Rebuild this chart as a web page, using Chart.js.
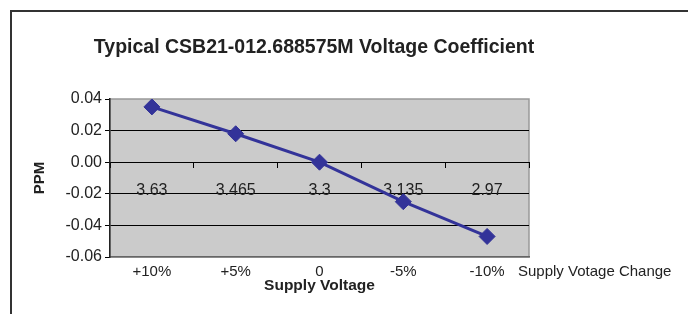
<!DOCTYPE html>
<html>
<head>
<meta charset="utf-8">
<script src="https://cdn.jsdelivr.net/npm/chart.js@4.4.1/dist/chart.umd.min.js"></script>
<style>
  html, body { margin: 0; padding: 0; background: #fff; }
  #wrap { position: relative; width: 688px; height: 314px; overflow: hidden; }
  #frame { position: absolute; left: 10px; top: 10px; width: 700px; height: 320px;
           border-left: 2px solid #333; border-top: 2px solid #333; }
  #chart { position: absolute; left: 0; top: 0; }
</style>
</head>
<body>
<div id="wrap">
  <div id="frame"></div>
  <canvas id="chart" width="688" height="314"></canvas>
</div>
<script>
// data
var changeLabels = ["+10%", "+5%", "0", "-5%", "-10%"];
var voltageLabels = ["3.63", "3.465", "3.3", "3.135", "2.97"];
var ppmValues = [0.035, 0.018, 0.0, -0.025, -0.047];
var ppmTicks = [-0.06, -0.04, -0.02, 0.00, 0.02, 0.04];
var changeNote = "Supply Votage Change";

Chart.defaults.font.family = '"Liberation Sans", Arial, sans-serif';
Chart.defaults.color = "#222";

// grey plot area with a thin border
var plotBg = {
    id: "plotBg",
    beforeDraw: function (chart) {
        var a = chart.chartArea, ctx = chart.ctx;
        ctx.save();
        ctx.fillStyle = "#cbcbcb";
        ctx.fillRect(a.left, a.top, a.right - a.left, a.bottom - a.top);
        ctx.strokeStyle = "#999";
        ctx.lineWidth = 1.5;
        ctx.strokeRect(a.left, a.top, a.right - a.left, a.bottom - a.top);
        ctx.restore();
    }
};

// the text box next to the bottom labels
var sideNote = {
    id: "sideNote",
    afterDraw: function (chart) {
        var xs = chart.scales.x, ctx = chart.ctx;
        ctx.save();
        ctx.font = '15px "Liberation Sans", Arial, sans-serif';
        ctx.fillStyle = "#222";
        ctx.textAlign = "left";
        ctx.textBaseline = "middle";
        ctx.fillText(changeNote, chart.chartArea.right - 11, xs.top + 15);
        ctx.restore();
    }
};

var ctx = document.getElementById("chart").getContext("2d");
var chart = new Chart(ctx, {
    type: "line",
    data: {
        labels: changeLabels,
        datasets: [{
            label: "PPM",
            data: ppmValues,
            xAxisID: "x",
            yAxisID: "y",
            borderColor: "#333399",
            borderWidth: 3,
            backgroundColor: "#333399",
            pointStyle: "rectRot",
            pointRadius: 8,
            pointBorderWidth: 1,
            tension: 0,
            fill: false
        }]
    },
    options: {
        responsive: false,
        animation: false,
        layout: { padding: { left: 25, right: 85, top: 0, bottom: 0 } },
        plugins: {
            legend: { display: false },
            tooltip: { enabled: false },
            title: {
                display: true,
                text: "Typical CSB21-012.688575M Voltage Coefficient",
                font: { size: 19.5, weight: "bold" },
                color: "#222",
                padding: { top: 36.3, bottom: 39.3 }
            }
        },
        scales: {
            x: {
                type: "category",
                position: "bottom",
                offset: true,
                afterFit: function (s) { s.height = 57; },
                grid: { display: false, drawTicks: false },
                border: { color: "#666", width: 1.5 },
                ticks: { font: { size: 15 }, padding: 6, autoSkip: false, maxRotation: 0 },
                title: {
                    display: true,
                    text: "Supply Voltage",
                    font: { size: 15.5, weight: "bold" },
                    padding: { top: 0, bottom: 18.7 }
                }
            },
            x2: {
                type: "category",
                axis: "x",
                labels: voltageLabels,
                position: { y: 0 },
                offset: true,
                grid: { drawOnChartArea: false, offset: true, tickLength: 5, color: "#000" },
                border: { color: "#000", width: 1 },
                ticks: { font: { size: 16 }, padding: 14, autoSkip: false, maxRotation: 0 }
            },
            y: {
                position: "left",
                min: ppmTicks[0],
                max: ppmTicks[ppmTicks.length - 1],
                afterBuildTicks: function (s) {
                    s.ticks = ppmTicks.map(function (v) { return { value: v }; });
                },
                afterFit: function (s) { s.width = 85; },
                grid: {
                    color: function (c) {
                        return (c.index === 0 || c.index === ppmTicks.length - 1) ? "rgba(0,0,0,0)" : "#000";
                    },
                    tickColor: "#000",
                    tickLength: 5
                },
                border: { color: "#222", width: 1.5 },
                ticks: {
                    font: { size: 16 },
                    padding: 3,
                    callback: function (v) { return Number(v).toFixed(2); }
                },
                title: {
                    display: true,
                    text: "PPM",
                    font: { size: 15, weight: "bold" },
                    padding: { top: 6, bottom: 0 }
                }
            },
            // empty right-hand margin so the title centres like the original
            yRight: {
                axis: "y",
                position: "right",
                afterFit: function (s) { s.width = 74; },
                grid: { display: false, drawTicks: false },
                border: { display: false },
                ticks: { display: false }
            }
        }
    },
    plugins: [plotBg, sideNote]
});
</script>
</body>
</html>
